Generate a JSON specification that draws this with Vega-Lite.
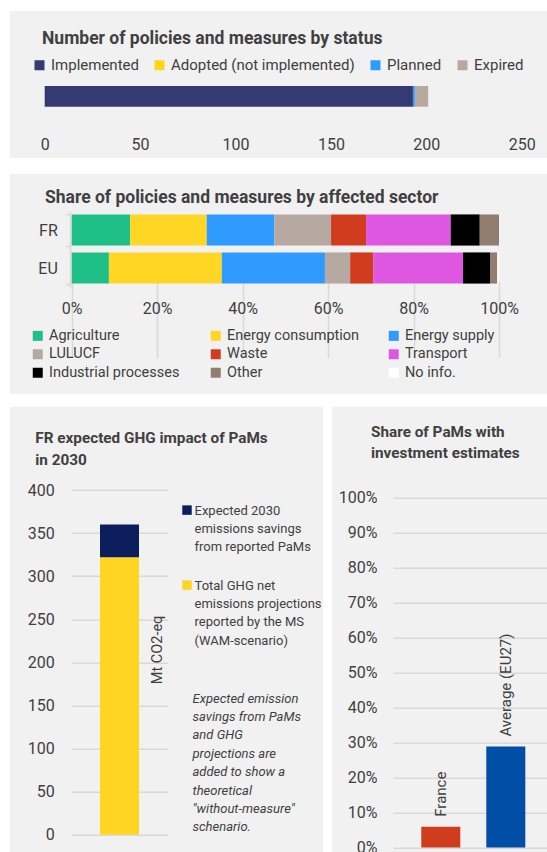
{
  "$schema": "https://vega.github.io/schema/vega-lite/v6.json",
  "background": "white",
  "padding": {"left": 10, "top": 11, "right": 0, "bottom": 0},
  "config": {
    "font": "Roboto",
    "view": {"stroke": null},
    "axis": {"labelColor": "#404040", "labelFont": "Roboto", "titleFont": "Roboto", "titleColor": "#404040", "labelFlush": false},
    "legend": {"labelColor": "#404040", "labelFont": "Roboto"},
    "title": {"color": "#404040", "font": "Roboto", "fontWeight": "bold"},
    "text": {"font": "Roboto"},
    "style": {"guide-label": {"lineHeight": 18.4}}
  },
  "spacing": 11.7,
  "resolve": {"scale": {"color": "independent"}, "legend": {"color": "independent"}},
  "vconcat": [
    {
      "spacing": 16,
      "bounds": "flush",
      "resolve": {"scale": {"color": "independent"}, "legend": {"color": "independent"}},
      "vconcat": [
        {
          "width": 537,
          "height": 147,
          "view": {"fill": "#f1f1f1", "stroke": null},
          "title": {"text": "Number of policies and measures by status", "anchor": "start", "frame": "group", "offset": -36.5, "dx": 32, "fontSize": 17.5},
          "data": {"values": [
            {"country": "FR", "status": "Implemented", "seq": 1, "count": 193},
            {"country": "FR", "status": "Adopted (not implemented)", "seq": 2, "count": 0},
            {"country": "FR", "status": "Planned", "seq": 3, "count": 1},
            {"country": "FR", "status": "Expired", "seq": 4, "count": 7}
          ]},
          "mark": {"type": "bar"},
          "encoding": {
            "y": {"field": "country", "type": "nominal", "scale": {"range": [75, 95.7], "paddingInner": 0, "paddingOuter": 0}, "axis": null},
            "x": {"field": "count", "type": "quantitative", "stack": "zero",
              "scale": {"domain": [0, 250], "range": [34.7, 511.7], "nice": false},
              "axis": {"values": [0, 50, 100, 150, 200, 250], "offset": -23.6, "domain": false, "ticks": false, "grid": false, "labelPadding": 2, "labelFontSize": 16, "title": null}},
            "order": {"field": "seq", "type": "quantitative", "sort": "ascending"},
            "color": {"field": "status", "type": "nominal",
              "scale": {"domain": ["Implemented", "Adopted (not implemented)", "Planned", "Expired"], "range": ["#353b72", "#ffd617", "#2e9bff", "#b7a9a1"]},
              "legend": {"orient": "none", "legendX": 22, "legendY": 46.5, "direction": "horizontal", "title": null, "symbolType": "square", "symbolSize": 100, "symbolStrokeWidth": 0, "labelFontSize": 15, "labelOffset": 4, "columnPadding": 13, "padding": 0, "labelLimit": 400}}
          }
        },
        {
          "width": 537,
          "height": 220.3,
          "view": {"fill": "#f1f1f1", "stroke": null},
          "title": {"text": "Share of policies and measures by affected sector", "anchor": "start", "frame": "group", "offset": -40.8, "dx": 35, "fontSize": 17.5},
          "data": {"values": [
            {"region": "FR", "sector": "Agriculture", "seq": 1, "share": 13.7},
            {"region": "FR", "sector": "Energy consumption", "seq": 2, "share": 17.9},
            {"region": "FR", "sector": "Energy supply", "seq": 3, "share": 15.8},
            {"region": "FR", "sector": "LULUCF", "seq": 4, "share": 13.3},
            {"region": "FR", "sector": "Waste", "seq": 5, "share": 8.2},
            {"region": "FR", "sector": "Transport", "seq": 6, "share": 19.8},
            {"region": "FR", "sector": "Industrial processes", "seq": 7, "share": 6.8},
            {"region": "FR", "sector": "Other", "seq": 8, "share": 4.5},
            {"region": "FR", "sector": "No info.", "seq": 9, "share": 0},
            {"region": "EU", "sector": "Agriculture", "seq": 1, "share": 8.7},
            {"region": "EU", "sector": "Energy consumption", "seq": 2, "share": 26.4},
            {"region": "EU", "sector": "Energy supply", "seq": 3, "share": 24.1},
            {"region": "EU", "sector": "LULUCF", "seq": 4, "share": 5.9},
            {"region": "EU", "sector": "Waste", "seq": 5, "share": 5.4},
            {"region": "EU", "sector": "Transport", "seq": 6, "share": 21.0},
            {"region": "EU", "sector": "Industrial processes", "seq": 7, "share": 6.3},
            {"region": "EU", "sector": "Other", "seq": 8, "share": 1.7},
            {"region": "EU", "sector": "No info.", "seq": 9, "share": 0.4}
          ]},
          "mark": {"type": "bar"},
          "encoding": {
            "y": {"field": "region", "type": "nominal", "sort": ["FR", "EU"],
              "scale": {"range": [37, 113], "paddingInner": 0.18, "paddingOuter": 0.09},
              "axis": {"offset": -60, "domain": true, "domainColor": "#d9d9d9", "domainWidth": 1.5, "ticks": true, "tickBand": "extent", "tickSize": 5, "tickColor": "#d9d9d9", "tickWidth": 1.5, "labelPadding": 7.7, "labelFontSize": 16, "title": null, "grid": false}},
            "x": {"field": "share", "type": "quantitative", "stack": "normalize",
              "scale": {"domain": [0, 1], "range": [61.7, 489], "nice": false},
              "axis": {"values": [0, 0.2, 0.4, 0.6, 0.8, 1], "format": ".0%", "offset": -95.7, "domain": false, "ticks": false, "grid": true, "gridColor": "#d9d9d9", "gridWidth": 1.5, "labelPadding": 2, "labelFontSize": 16, "title": null}},
            "order": {"field": "seq", "type": "quantitative", "sort": "ascending"},
            "color": {"field": "sector", "type": "nominal",
              "scale": {"domain": ["Agriculture", "Energy consumption", "Energy supply", "LULUCF", "Waste", "Transport", "Industrial processes", "Other", "No info."],
                "range": ["#1fbf88", "#ffd624", "#2f9aff", "#b6a9a2", "#d23c1e", "#dd57e0", "#000000", "#917e70", "#ffffff"]},
              "legend": {"orient": "none", "legendX": 20.5, "legendY": 154.5, "direction": "horizontal", "columns": 3, "gridAlign": "all", "title": null, "symbolType": "square", "symbolSize": 100, "symbolStrokeWidth": 0, "labelFontSize": 14.5, "labelOffset": 4, "columnPadding": 27, "rowPadding": 3.5, "padding": 0, "labelLimit": 400}}
          }
        }
      ]
    },
    {
      "spacing": 9,
      "bounds": "flush",
      "resolve": {"scale": {"color": "independent"}, "legend": {"color": "independent"}},
      "hconcat": [
        {
          "width": 313,
          "height": 446,
          "view": {"fill": "#f1f1f1", "stroke": null},
          "title": {"text": ["FR expected GHG impact of PaMs", "in 2030"], "anchor": "start", "frame": "group", "offset": -62, "dx": 25.3, "fontSize": 15.3, "lineHeight": 22.3},
          "data": {"values": [
            {"country": "FR", "component": "Total GHG net emissions projections reported by the MS (WAM-scenario)", "value": 322},
            {"country": "FR", "component": "Expected 2030 emissions savings from reported PaMs", "value": 38}
          ]},
          "mark": {"type": "bar"},
          "encoding": {
            "x": {"field": "country", "type": "nominal",
              "scale": {"range": [61.3, 157.7], "paddingInner": 0, "paddingOuter": 0.736},
              "axis": {"labels": false, "ticks": false, "domain": false, "grid": false,
                "title": ["Expected emission", "savings from PaMs", "and GHG", "projections are", "added to show a", "theoretical", "\"without-measure\"", "schenario."],
                "titleX": 182, "titleY": -150.5, "titleAlign": "left", "titleBaseline": "alphabetic", "titleAngle": 0, "titleFontStyle": "italic", "titleFontWeight": "normal", "titleFontSize": 13, "titleLineHeight": 18.4}},
            "y": {"field": "value", "type": "quantitative", "stack": "zero",
              "scale": {"domain": [0, 400], "range": [428, 83.3], "nice": false},
              "axis": {"values": [0, 50, 100, 150, 200, 250, 300, 350, 400], "offset": -61.3, "domain": false, "ticks": false, "grid": true, "gridColor": "#d9d9d9", "gridWidth": 1.5, "labelPadding": 17, "labelFontSize": 16,
                "title": "Mt CO2-eq", "titleX": 85.7, "titleY": 242.7, "titleAngle": 270, "titleAlign": "center", "titleBaseline": "middle", "titleFontSize": 14.5, "titleFontWeight": "normal"}},
            "order": {"field": "component", "sort": "descending"},
            "color": {"field": "component", "type": "nominal",
              "scale": {"domain": ["Expected 2030 emissions savings from reported PaMs", "Total GHG net emissions projections reported by the MS (WAM-scenario)"], "range": ["#0c1f5c", "#ffd524"]},
              "legend": {"orient": "none", "legendX": 170.5, "legendY": 101.5, "direction": "vertical", "title": null, "symbolType": "M-1,-1.97H1V0.03H-1Z", "symbolSize": 90, "symbolStrokeWidth": 0, "labelFontSize": 13, "labelOffset": 1, "labelBaseline": "alphabetic", "rowPadding": 24, "padding": 0, "labelLimit": 400,
                "labelExpr": "datum.label == 'Expected 2030 emissions savings from reported PaMs' ? ['Expected 2030', 'emissions savings', 'from reported PaMs'] : ['Total GHG net', 'emissions projections', 'reported by the MS', '(WAM-scenario)']"}}
          }
        },
        {
          "width": 215.3,
          "height": 446,
          "view": {"fill": "#f1f1f1", "stroke": null},
          "title": {"text": ["Share of PaMs with", "investment estimates"], "anchor": "start", "frame": "group", "offset": -54.7, "dx": 39, "fontSize": 15.3, "lineHeight": 21.6},
          "data": {"values": [
            {"country": "France", "share": 0.059},
            {"country": "Average (EU27)", "share": 0.288}
          ]},
          "encoding": {
            "x": {"field": "country", "type": "nominal", "sort": null,
              "scale": {"range": [61, 221.6], "paddingInner": 0.4, "paddingOuter": 0.435}, "axis": null},
            "y": {"field": "share", "type": "quantitative",
              "scale": {"domain": [0, 1], "range": [440.7, 90.7], "nice": false},
              "axis": {"values": [0, 0.1, 0.2, 0.3, 0.4, 0.5, 0.6, 0.7, 0.8, 0.9, 1], "format": ".0%", "offset": -61, "domain": false, "ticks": false, "grid": true, "gridColor": "#d9d9d9", "gridWidth": 1.5, "labelPadding": 16, "labelFontSize": 16, "title": null}}
          },
          "layer": [
            {
              "mark": {"type": "bar"},
              "encoding": {
                "color": {"field": "country", "type": "nominal", "scale": {"domain": ["France", "Average (EU27)"], "range": ["#d03c1e", "#004ea6"]}, "legend": null}
              }
            },
            {
              "mark": {"type": "text", "angle": 270, "align": "left", "baseline": "middle", "dx": 10, "fontSize": 15, "color": "#404040"},
              "encoding": {"text": {"field": "country", "type": "nominal"}}
            }
          ]
        }
      ]
    }
  ]
}
